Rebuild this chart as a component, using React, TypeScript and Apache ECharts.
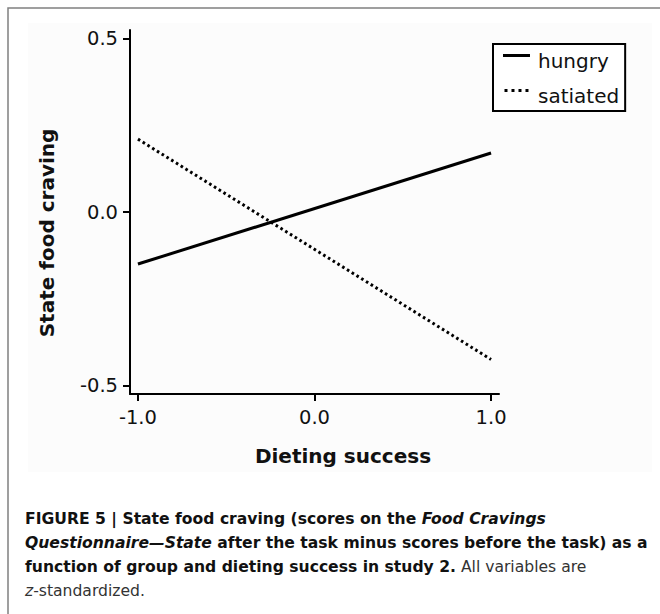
import React, { useEffect, useRef } from 'react';
import * as echarts from 'echarts';

// ---- data ----
const xValues = [-1.0, 1.0];
const hungryValues = [-0.15, 0.17];
const satiatedValues = [0.21, -0.425];
const seriesNames = ['hungry', 'satiated'];
const xTicks = [-1.0, 0.0, 1.0];
const yTicks = [-0.5, 0.0, 0.5];
const xTitle = 'Dieting success';
const yTitle = 'State food craving';
const captionLines: [string, string][][] = [
  [['b', 'FIGURE 5 | State food craving (scores on the '], ['bi', 'Food Cravings']],
  [['bi', 'Questionnaire\u2014State'], ['b', ' after the task minus scores before the task) as a']],
  [['b', 'function of group and dieting success in study 2.'], ['r', ' All variables are']],
  [['i', 'z'], ['r', '-standardized.']],
];

const FONT = 'DejaVu Sans';

export default function App() {
  const ref = useRef<HTMLDivElement>(null);

  useEffect(() => {
    const chart = echarts.init(ref.current as HTMLDivElement, null, { renderer: 'svg' });
    const pairs = (ys: number[]) => xValues.map((x, i) => [x, ys[i]]);

    const capSize = 15.6;
    const rich = {
      b: { fontFamily: FONT, fontSize: capSize, fontWeight: 'bold', fill: '#111' },
      bi: { fontFamily: FONT, fontSize: capSize, fontWeight: 'bold', fontStyle: 'italic', fill: '#111' },
      r: { fontFamily: FONT, fontSize: capSize, fontWeight: 'normal', fill: '#333' },
      i: { fontFamily: FONT, fontSize: capSize, fontWeight: 'normal', fontStyle: 'italic', fill: '#333' },
    };
    const captionElements = captionLines.map((segs, li) => ({
      type: 'text',
      x: 25,
      y: 519 + li * 24,
      style: {
        text: segs.map(([k, t]) => `{${k}|${t}}`).join(''),
        rich,
        fontFamily: FONT,
        fontSize: capSize,
        align: 'left',
        verticalAlign: 'middle',
      },
    }));

    const axisCommon = {
      type: 'value' as const,
      splitLine: { show: false },
      axisLine: { show: true, onZero: false, lineStyle: { color: '#000', width: 2 } },
    };

    chart.setOption({
      animation: false,
      backgroundColor: '#ffffff',
      grid: { left: 130, right: 161, top: 30, bottom: 220, containLabel: false, outerBoundsMode: 'none' },
      xAxis: {
        ...axisCommon,
        min: -1.045,
        max: 1.045,
        axisTick: { show: true, customValues: xTicks, length: 7, lineStyle: { color: '#000', width: 2 } },
        axisLabel: {
          customValues: xTicks,
          formatter: (v: number) => v.toFixed(1),
          margin: 13,
          color: '#111',
          fontFamily: FONT,
          fontSize: 19.5,
        },
      },
      yAxis: {
        ...axisCommon,
        min: -0.5245,
        max: 0.5245,
        axisTick: { show: true, customValues: yTicks, length: 7, lineStyle: { color: '#000', width: 2 } },
        axisLabel: {
          customValues: yTicks,
          formatter: (v: number) => v.toFixed(1),
          margin: 12,
          color: '#111',
          fontFamily: FONT,
          fontSize: 19.5,
        },
      },
      legend: {
        orient: 'vertical',
        left: 493,
        top: 44,
        padding: [7, 6, 5, 10],
        itemGap: 15,
        itemWidth: 27,
        itemHeight: 14,
        borderColor: '#000',
        borderWidth: 2,
        backgroundColor: '#fff',
        itemStyle: { color: '#000', borderWidth: 0 },
        textStyle: { fontFamily: FONT, fontSize: 20, color: '#111', padding: [0, 0, 0, 3] },
        data: [
          { name: seriesNames[0], icon: 'path://M0,0H27V3H0ZM0,14h0.01v0.01h-0.01Z' },
          {
            name: seriesNames[1],
            icon: 'path://M0,0H3V3H0ZM7,0H10V3H7ZM14,0H17V3H14ZM21,0H24V3H21ZM0,14h0.01v0.01h-0.01Z',
          },
        ],
      },
      graphic: [
        {
          type: 'rect',
          z: -10,
          silent: true,
          shape: { x: 28, y: 23, width: 624, height: 449 },
          style: { fill: '#fcfcfc', stroke: 'none' },
        },
        {
          type: 'rect',
          silent: true,
          shape: { x: 8, y: 8, width: 720, height: 720 },
          style: { fill: 'none', stroke: '#808080', lineWidth: 1.5 },
        },
        {
          type: 'text',
          x: 47,
          y: 233,
          rotation: Math.PI / 2,
          style: {
            text: yTitle,
            fontFamily: FONT,
            fontSize: 20,
            fontWeight: 'bold',
            fill: '#111',
            align: 'center',
            verticalAlign: 'middle',
          },
        },
        {
          type: 'text',
          x: 343,
          y: 456,
          style: {
            text: xTitle,
            fontFamily: FONT,
            fontSize: 20,
            fontWeight: 'bold',
            fill: '#111',
            align: 'center',
            verticalAlign: 'middle',
          },
        },
        ...captionElements,
      ],
      series: [
        {
          type: 'line',
          name: seriesNames[0],
          data: pairs(hungryValues),
          symbol: 'none',
          color: '#000',
          itemStyle: { color: '#000' },
          lineStyle: { color: '#000', width: 3, type: 'solid' },
        },
        {
          type: 'line',
          name: seriesNames[1],
          data: pairs(satiatedValues),
          symbol: 'none',
          color: '#000',
          itemStyle: { color: '#000' },
          lineStyle: { color: '#000', width: 3, type: [2.6, 3], cap: 'butt' },
        },
      ],
    });

    return () => chart.dispose();
  }, []);

  return (
    <div
      ref={ref}
      style={{ position: 'fixed', left: 0, top: 0, width: 660, height: 614, background: '#fff' }}
    />
  );
}
